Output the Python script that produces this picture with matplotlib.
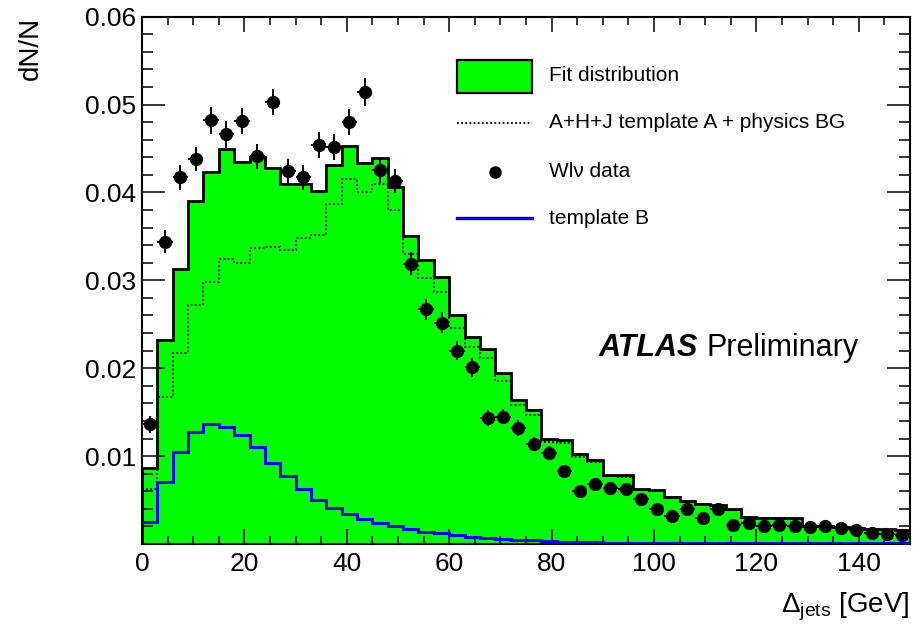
import numpy as np
import matplotlib
matplotlib.use("Agg")
import matplotlib.pyplot as plt
from matplotlib.patches import Rectangle
from matplotlib.ticker import MultipleLocator, FixedLocator

plt.rcParams['font.family'] = ['Liberation Sans', 'DejaVu Sans']
plt.rcParams['mathtext.fontset'] = 'custom'
plt.rcParams['mathtext.rm'] = 'Liberation Sans'
plt.rcParams['mathtext.it'] = 'Liberation Sans:italic'

# 50 bins of 3 GeV from 0 to 150
bin_edges = np.arange(0, 151, 3)

fit_values = [0.0087, 0.0232, 0.0313, 0.0390, 0.0423, 0.0449, 0.0435, 0.0440, 0.0428, 0.0410,
              0.0410, 0.0402, 0.0431, 0.0453, 0.0434, 0.0439, 0.0406, 0.0350, 0.0323, 0.0304,
              0.0260, 0.0236, 0.0222, 0.0194, 0.0164, 0.0152, 0.0120, 0.0118, 0.0102, 0.0096,
              0.0079, 0.0078, 0.0062, 0.0061, 0.0054, 0.0049, 0.0046, 0.0044, 0.0040, 0.0031,
              0.0030, 0.0030, 0.0029, 0.0020, 0.0020, 0.0019, 0.0018, 0.0017, 0.0017, 0.0016]

template_a_bg = [0.0062, 0.0167, 0.0217, 0.0272, 0.0298, 0.0324, 0.0320, 0.0337, 0.0338, 0.0335,
                 0.0348, 0.0351, 0.0387, 0.0415, 0.0400, 0.0410, 0.0380, 0.0330, 0.0303, 0.0287,
                 0.0246, 0.0224, 0.0212, 0.0186, 0.0158, 0.0147, 0.0116, 0.0115, 0.0099, 0.0093,
                 0.0077, 0.0076, 0.0061, 0.0060, 0.0053, 0.0048, 0.0045, 0.0043, 0.0039, 0.0031,
                 0.0030, 0.0029, 0.0028, 0.0020, 0.0019, 0.0019, 0.0018, 0.0017, 0.0016, 0.0016]

template_b = [0.0025, 0.0070, 0.0105, 0.0127, 0.0136, 0.0133, 0.0124, 0.0110, 0.0092, 0.0077,
              0.0062, 0.0050, 0.0041, 0.0034, 0.0028, 0.0024, 0.0020, 0.0017, 0.0014, 0.0012,
              0.0010, 0.00085, 0.0007, 0.00058, 0.00048, 0.0004, 0.00032, 0.00026, 0.0002, 0.00018,
              0.00016, 0.00014, 0.00013, 0.00012, 0.00012, 0.00012, 0.00012, 0.00012, 0.00012, 0.00012,
              0.00012, 0.00012, 0.00012, 0.00012, 0.00012, 0.00012, 0.00012, 0.00012, 0.00012, 0.00012]

data_values = [0.0136, 0.0344, 0.0417, 0.0438, 0.0482, 0.0466, 0.0481, 0.0441, 0.0503, 0.0424,
               0.0417, 0.0454, 0.0452, 0.0480, 0.0514, 0.0425, 0.0413, 0.0319, 0.0267, 0.0252,
               0.0220, 0.0201, 0.0143, 0.0145, 0.0132, 0.0114, 0.0103, 0.0083, 0.0060, 0.0068,
               0.0064, 0.0063, 0.0051, 0.0040, 0.0032, 0.0040, 0.0030, 0.0040, 0.0022, 0.0024,
               0.0021, 0.0022, 0.0021, 0.0019, 0.0020, 0.0018, 0.0016, 0.0013, 0.0011, 0.0010]

data_errors = [0.0010, 0.0013, 0.0014, 0.0014, 0.0015, 0.0015, 0.0015, 0.0014, 0.0015, 0.0014,
               0.0014, 0.0015, 0.0015, 0.0015, 0.0016, 0.0014, 0.0014, 0.0013, 0.0012, 0.0012,
               0.0011, 0.0011, 0.0009, 0.0009, 0.0009, 0.0008, 0.0008, 0.0007, 0.0006, 0.0006,
               0.0006, 0.0006, 0.0005, 0.0005, 0.0004, 0.0005, 0.0004, 0.0005, 0.0003, 0.0003,
               0.0003, 0.0003, 0.0003, 0.0003, 0.0003, 0.0003, 0.0003, 0.0003, 0.0003, 0.0003]

y_ticks = [0.01, 0.02, 0.03, 0.04, 0.05, 0.06]
y_tick_labels = ["0.01", "0.02", "0.03", "0.04", "0.05", "0.06"]

GREEN = '#00ff00'
BLUE = '#0000ff'


def style_axes(ax):
    """ROOT like frame: ticks inside on all four sides"""
    ax.set_xlim(0, 150)
    ax.set_ylim(0, 0.06)
    for spine in ax.spines.values():
        spine.set_linewidth(1.5)
        spine.set_zorder(2.5)
    ax.xaxis.set_major_locator(MultipleLocator(20))
    ax.xaxis.set_minor_locator(MultipleLocator(5))
    ax.yaxis.set_major_locator(FixedLocator(y_ticks))
    ax.yaxis.set_minor_locator(MultipleLocator(0.002))
    ax.set_yticklabels(y_tick_labels)
    ax.tick_params(axis='both', which='both', direction='in', top=True, right=True,
                   width=1.1, labelsize=19)
    ax.tick_params(axis='y', which='major', length=16.5, pad=4)
    ax.tick_params(axis='y', which='minor', length=8)
    ax.tick_params(axis='x', which='major', length=11, pad=6)
    ax.tick_params(axis='x', which='minor', length=5.5)


def draw_legend(ax):
    """Legend drawn by hand at the same place as the original"""
    tr = ax.transAxes
    ax.add_patch(Rectangle((0.410, 0.855), 0.098, 0.063, transform=tr,
                           facecolor=GREEN, edgecolor='black', linewidth=1.6, zorder=5))
    ax.plot([0.410, 0.508], [0.799, 0.799], transform=tr, color='black',
            linestyle=(0, (1, 1.3)), linewidth=1.3, zorder=5)
    ax.plot([0.4596], [0.7055], transform=tr, marker='o', color='black',
            markersize=8, zorder=5)
    ax.plot([0.410, 0.508], [0.618, 0.618], transform=tr, color=BLUE,
            linewidth=2.4, zorder=5)
    labels = ["Fit distribution", "A+H+J template A + physics BG", "Wlν data", "template B"]
    for label, y in zip(labels, [0.8875, 0.800, 0.7055, 0.618]):
        ax.text(0.530, y, label, transform=tr, fontsize=15, va='center', ha='left')


if __name__ == '__main__':
    fig = plt.figure(figsize=(9.24, 6.36), dpi=100)
    ax = fig.add_axes([0.1537, 0.1447, 0.8311, 0.8291])

    centers = (bin_edges[:-1] + bin_edges[1:]) / 2

    ax.stairs(fit_values, bin_edges, fill=True, color=GREEN, zorder=1)
    ax.stairs(fit_values, bin_edges, color='black', linewidth=2.0, zorder=2)
    ax.stairs(template_a_bg, bin_edges, baseline=None, color='black',
              linestyle=(0, (1, 1.3)), linewidth=1.3, zorder=2)
    ax.stairs(template_b, bin_edges, baseline=None, color=BLUE, linewidth=2.2, zorder=3)
    ax.errorbar(centers, data_values, yerr=data_errors, xerr=1.5, fmt='o', color='black',
                markersize=8.5, elinewidth=1.4, capsize=0, zorder=4)

    style_axes(ax)
    draw_legend(ax)

    ax.text(0.594, 0.372, "ATLAS", transform=ax.transAxes, fontsize=22,
            fontweight='bold', fontstyle='italic', va='center', ha='left')
    ax.text(0.7357, 0.372, "Preliminary", transform=ax.transAxes, fontsize=22,
            va='center', ha='left')

    ax.set_xlabel(r"$\Delta_{\mathrm{jets}}$ [GeV]", fontsize=20, loc='right')
    ax.xaxis.set_label_coords(1.0, -0.088)
    ax.set_ylabel("dN/N", fontsize=20, loc='top')
    ax.yaxis.set_label_coords(-0.128, 1.0)

    fig.savefig("out.png", dpi=100)
